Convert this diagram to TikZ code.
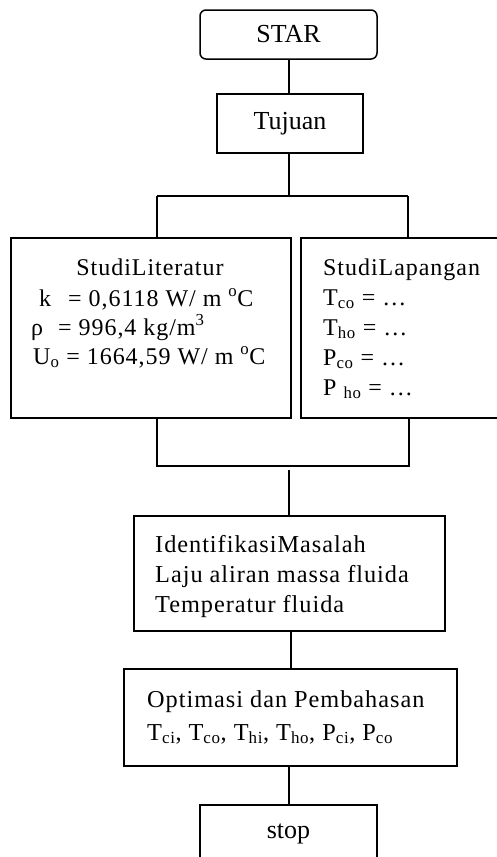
\documentclass[tikz,border=0pt]{standalone}
\usepackage{fontspec}
\setmainfont{Liberation Serif}
\newfontfamily\spacedfont[LetterSpace=4]{Liberation Serif}
\begin{document}
\begin{tikzpicture}[x=1pt,y=-1pt,
  box/.style={draw, line width=1.5pt, rectangle, inner sep=0pt},
  conn/.style={line width=1.5pt},
  bigtext/.style={font=\fontsize{26}{30}\selectfont},
  midtext/.style={font=\spacedfont\fontsize{24}{28}\selectfont, anchor=base west, inner sep=0pt},
  idtext/.style={font=\spacedfont\fontsize{24.3}{28}\selectfont, anchor=base west, inner sep=0pt}]
\useasboundingbox (0,0) rectangle (497,857);
\clip (0,0) rectangle (497,857);
% boxes
\node[box, rounded corners=6pt, minimum width=177pt, minimum height=49pt, bigtext] (star) at (288.5,34.5) {STAR};
\node[box, minimum width=146pt, minimum height=59pt, bigtext] (tuj) at (290,123.5) {Tujuan};
\node[box, minimum width=280pt, minimum height=180pt] (lit) at (151,328) {};
\node[box, minimum width=239pt, minimum height=180pt] (lap) at (420.5,328) {};
\node[box, minimum width=311pt, minimum height=115pt] (ident) at (289.5,573.5) {};
\node[box, minimum width=333pt, minimum height=97pt] (optim) at (290.5,717.5) {};
\node[box, minimum width=177pt, minimum height=58pt, bigtext] (stop) at (288.5,834) {stop};
% left box text
\node[midtext, anchor=base] (l1) at (150,275) {StudiLiteratur};
\node[midtext] (l2) at (39,306) {k\hspace{17pt}= 0,6118 W/ m \textsuperscript{o}C};
\node[midtext] (l3) at (31,335) {ρ\hspace{15pt}= 996,4 kg/m\textsuperscript{3}};
\node[midtext] (l4) at (33,364) {U\textsubscript{o} = 1664,59 W/ m \textsuperscript{o}C};
% right box text
\node[midtext] (r1) at (323,275) {StudiLapangan};
\node[midtext] (r2) at (323,305) {T\textsubscript{co} = …};
\node[midtext] (r3) at (323,335) {T\textsubscript{ho} = …};
\node[midtext] (r4) at (323,365) {P\textsubscript{co} = …};
\node[midtext] (r5) at (323,395) {P \textsubscript{ho} = …};
% identifikasi text
\node[idtext] (i1) at (155,552) {IdentifikasiMasalah};
\node[idtext] (i2) at (155,582) {Laju aliran massa fluida};
\node[idtext] (i3) at (155,612) {Temperatur fluida};
% optimasi text
\node[idtext] (o1) at (147,707) {Optimasi dan Pembahasan};
\node[idtext] (o2) at (147,740) {T\textsubscript{ci}, T\textsubscript{co}, T\textsubscript{hi}, T\textsubscript{ho}, P\textsubscript{ci}, P\textsubscript{co}};
% connectors
\coordinate (ja) at (289,196);
\coordinate (jl) at (157,196);
\coordinate (jr) at (408,196);
\coordinate (kl) at (157,466);
\coordinate (kr) at (409,466);
\coordinate (km) at (289,470);
\draw[conn] (star.south -| ja) -- (tuj.north -| ja);
\draw[conn] (tuj.south -| ja) -- (ja);
\draw[conn] (jl) -- (jr);
\draw[conn] (jl) -- (jl |- lit.north);
\draw[conn] (jr) -- (jr |- lap.north);
\draw[conn] (kl |- lit.south) -- (kl) -- (kr) -- (kr |- lap.south);
\draw[conn] (km) -- (km |- ident.north);
\draw[conn] (ident.south -| 291,0) -- (optim.north -| 291,0);
\draw[conn] (optim.south -| km) -- (stop.north -| km);
\end{tikzpicture}
\end{document}
